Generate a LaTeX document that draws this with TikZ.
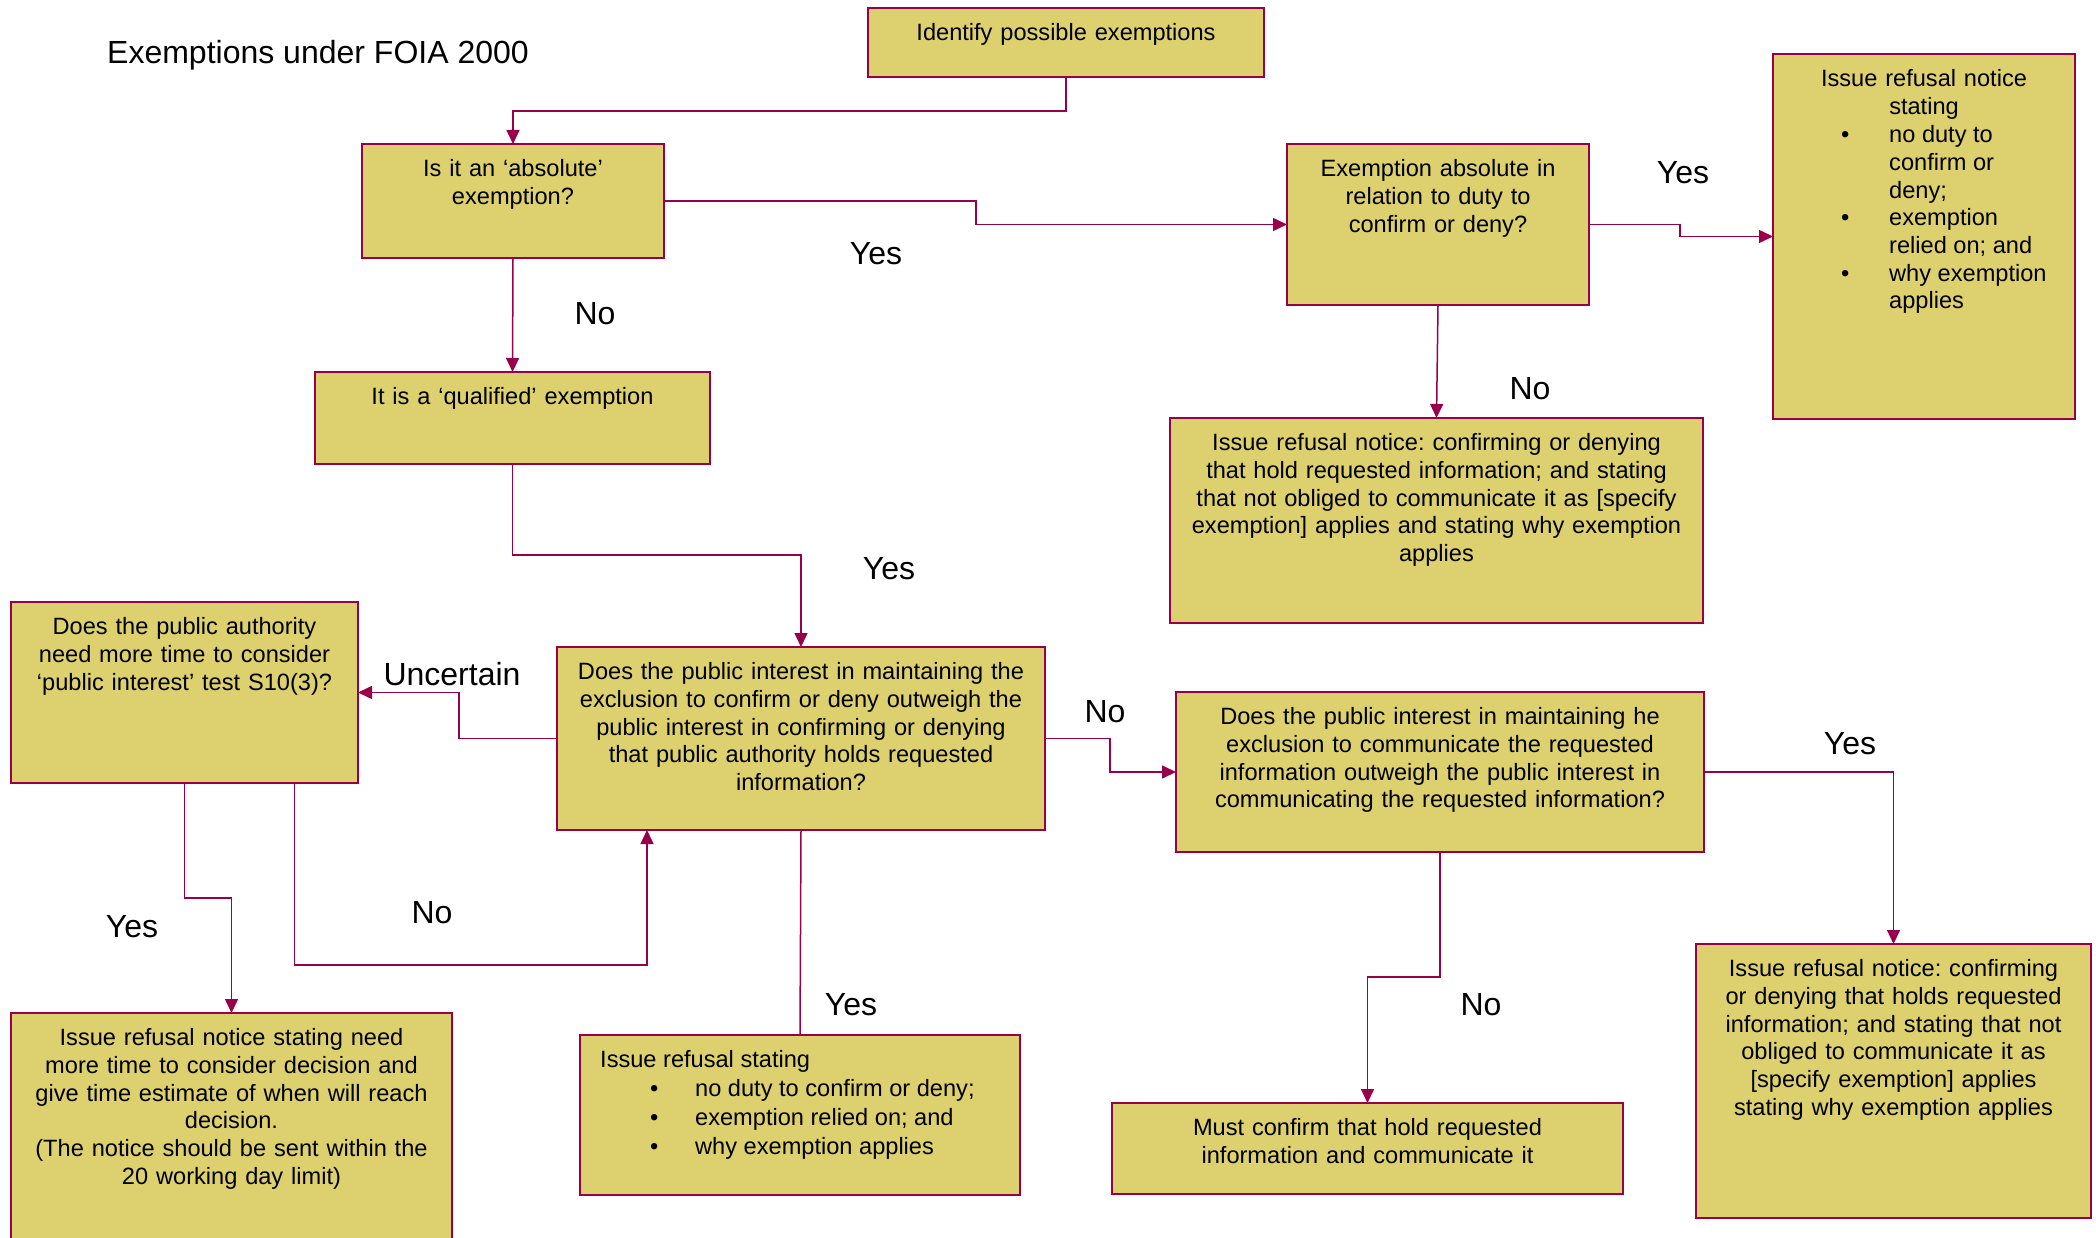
\documentclass[tikz,border=0pt]{standalone}
\usepackage{fontspec}
\setmainfont{Liberation Sans}
\usetikzlibrary{arrows.meta,fit}
\definecolor{boxfill}{RGB}{220,209,110}
\definecolor{edgecol}{RGB}{153,0,76}
\frenchspacing
\begin{document}
\begin{tikzpicture}[x=1pt,y=-1pt,
  box/.style={draw=edgecol,fill=boxfill,line width=1.8pt,inner sep=0pt,outer sep=0pt},
  txt/.style={font=\fontsize{23.6}{27.7}\selectfont,inner sep=0pt,align=center,anchor=north},
  lab/.style={font=\fontsize{32}{36}\selectfont,inner sep=0pt,anchor=base},
  conn/.style={draw=edgecol,line width=1.5pt},
  arr/.style={conn,-{Triangle[length=14pt,width=13pt]}}]
\useasboundingbox (0,0) rectangle (2096,1238);
\fill[white] (0,0) rectangle (2096,1238);

% title
\node[font=\fontsize{32}{36}\selectfont,inner sep=0pt,anchor=base west] (title) at (107,64) {Exemptions under FOIA 2000};

% boxes
\node[box,fit={(868,8) (1264,77)}] (identify) {};
\node[box,fit={(362,144) (664,258)}] (absolute) {};
\node[box,fit={(315,372) (710,464)}] (qualified) {};
\node[box,fit={(1287,144) (1589,305)}] (exabs) {};
\node[box,fit={(1773,54) (2075,419)}] (refR) {};
\node[box,fit={(1170,418) (1703,623)}] (refN) {};
\node[box,fit={(11,602) (358,783)}] (moretime) {};
\node[box,fit={(557,647) (1045,830)}] (pi1) {};
\node[box,fit={(1176,692) (1704,852)}] (pi2) {};
\node[box,fit={(11,1013) (452,1260)}] (refT) {};
\node[box,fit={(580,1035) (1020,1195)}] (stating) {};
\node[box,fit={(1112,1103) (1623,1194)}] (must) {};
\node[box,fit={(1696,944) (2091,1218)}] (refC) {};

% texts
\node[txt,text width=396pt] (identify-t) at ([yshift=-15.5pt]identify.north) {Identify possible exemptions};
\node[txt,text width=302pt] (absolute-t) at ([yshift=-15.5pt]absolute.north) {Is it an ‘absolute’\\exemption?};
\node[txt,text width=395pt] (qualified-t) at ([yshift=-15.5pt]qualified.north) {It is a ‘qualified’ exemption};
\node[txt,text width=302pt] (exabs-t) at ([yshift=-15.5pt]exabs.north) {Exemption absolute in\\relation to duty to\\confirm or deny?};
\node[txt,text width=302pt] (refR-t) at ([yshift=-15.5pt]refR.north) {Issue refusal notice\\stating};
\node[txt,align=left,anchor=north west] (refR-b) at ([xshift=-83pt,yshift=-71.5pt]refR.north) {%
\makebox[48pt][l]{\textbullet}no duty to\\
\hspace*{48pt}confirm or\\
\hspace*{48pt}deny;\\
\makebox[48pt][l]{\textbullet}exemption\\
\hspace*{48pt}relied on; and\\
\makebox[48pt][l]{\textbullet}why exemption\\
\hspace*{48pt}applies};
\node[txt,text width=533pt] (refN-t) at ([yshift=-15.5pt]refN.north) {Issue refusal notice: confirming or denying\\that hold requested information; and stating\\that not obliged to communicate it as [specify\\exemption] applies and stating why exemption\\applies};
\node[txt,text width=347pt] (moretime-t) at ([yshift=-15.5pt]moretime.north) {Does the public authority\\need more time to consider\\‘public interest’ test S10(3)?};
\node[txt,text width=488pt] (pi1-t) at ([yshift=-15.5pt]pi1.north) {Does the public interest in maintaining the\\exclusion to confirm or deny outweigh the\\public interest in confirming or denying\\that public authority holds requested\\information?};
\node[txt,text width=528pt] (pi2-t) at ([yshift=-15.5pt]pi2.north) {Does the public interest in maintaining he\\exclusion to communicate the requested\\information outweigh the public interest in\\communicating the requested information?};
\node[txt,text width=441pt] (refT-t) at ([yshift=-15.5pt]refT.north) {Issue refusal notice stating need\\more time to consider decision and\\give time estimate of when will reach\\decision.\\(The notice should be sent within the\\20 working day limit)};
\node[txt,align=left,anchor=north west,font=\fontsize{23.6}{29}\selectfont] (stating-t) at ([yshift=-15.5pt]stating.north west) {%
\hspace*{20pt}Issue refusal stating\\
\hspace*{70pt}\makebox[45pt][l]{\textbullet}no duty to confirm or deny;\\
\hspace*{70pt}\makebox[45pt][l]{\textbullet}exemption relied on; and\\
\hspace*{70pt}\makebox[45pt][l]{\textbullet}why exemption applies};
\node[txt,text width=511pt] (must-t) at ([yshift=-15.5pt]must.north) {Must confirm that hold requested\\information and communicate it};
\node[txt,text width=395pt] (refC-t) at ([yshift=-15.5pt]refC.north) {Issue refusal notice: confirming\\or denying that holds requested\\information; and stating that not\\obliged to communicate it as\\{[specify exemption]} applies\\stating why exemption applies};

% connectors
\draw[arr] (identify.south) -- ++(0,34) -| (absolute.north);
\draw[arr] (absolute.east) -- ++(312,0) |- (exabs.west);
\draw[arr] (absolute.south) -- (qualified.north);
\draw[arr] (exabs.east) -- ++(91,0) |- (refR.west);
\draw[arr] (exabs.south) -- (refN.north);
\draw[arr] (qualified.south) -- ++(0,91) -| (pi1.north);
\draw[arr] (pi1.west) -- ++(-98,0) |- (moretime.east);
\draw[arr] (pi1.east) -- ++(65,0) |- (pi2.west);
\draw[arr] (moretime.south) -- ++(0,115) -| (refT.north);
\draw[arr] ([xshift=110pt]moretime.south) -- ++(0,182) -| ([xshift=-154pt]pi1.south);
\draw[conn] (pi1.south) -- (stating.north);
\draw[arr] (pi2.east) -| (refC.north);
\draw[arr] (pi2.south) -- ++(0,125) -| (must.north);

% labels
\node[lab] (l-yes1) at (876,264.5) {Yes};
\node[lab] (l-no1) at (595,324.5) {No};
\node[lab] (l-yes2) at (1683,183.5) {Yes};
\node[lab] (l-no2) at (1530,399.5) {No};
\node[lab] (l-yes3) at (889,579.5) {Yes};
\node[lab] (l-unc) at (452,685.5) {Uncertain};
\node[lab] (l-no3) at (1105,722.5) {No};
\node[lab] (l-yes4) at (1850,754.5) {Yes};
\node[lab] (l-yes5) at (132,937.5) {Yes};
\node[lab] (l-no4) at (432,923.5) {No};
\node[lab] (l-yes6) at (851,1015.5) {Yes};
\node[lab] (l-no5) at (1481,1015.5) {No};
\end{tikzpicture}
\end{document}
